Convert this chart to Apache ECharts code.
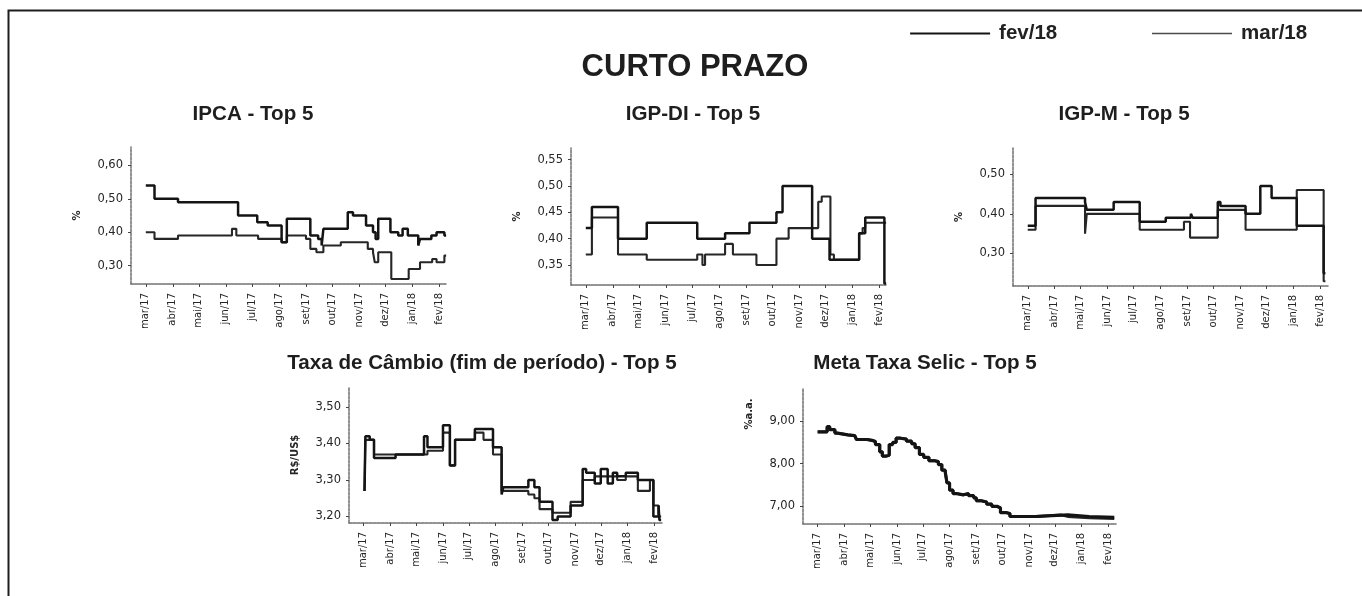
<!DOCTYPE html>
<html>
<head>
<meta charset="utf-8">
<script src="https://cdn.jsdelivr.net/npm/echarts@6/dist/echarts.min.js"></script>
<style>
  html, body { margin: 0; padding: 0; background: #ffffff; }
  #chart { width: 1362px; height: 596px; }
</style>
</head>
<body>
<div id="chart"></div>
<script>
// Month ticks shared by every panel
const monthTicks = ['2017-03-01','2017-04-01','2017-05-01','2017-06-01','2017-07-01','2017-08-01',
                    '2017-09-01','2017-10-01','2017-11-01','2017-12-01','2018-01-01','2018-02-01'];
const monthLabels = ['mar/17','abr/17','mai/17','jun/17','jul/17','ago/17',
                     'set/17','out/17','nov/17','dez/17','jan/18','fev/18'];
const xStart = '2017-02-12';
const xEnd = '2018-02-10';

// IPCA - Top 5 (% a.m.)
const ipcaFev = [['2017-03-01',0.54],['2017-03-11',0.50],['2017-04-07',0.49],['2017-06-15',0.45],['2017-07-07',0.43],
  ['2017-07-19',0.42],['2017-08-04',0.37],['2017-08-10',0.44],['2017-09-06',0.39],['2017-09-15',0.38],['2017-09-19',0.36],
  ['2017-09-21',0.41],['2017-10-19',0.46],['2017-10-25',0.45],['2017-11-09',0.42],['2017-11-17',0.40],['2017-11-20',0.38],
  ['2017-11-23',0.44],['2017-12-07',0.40],['2017-12-16',0.39],['2017-12-21',0.41],['2017-12-27',0.39],['2018-01-08',0.36],
  ['2018-01-10',0.38],['2018-01-23',0.39],['2018-01-29',0.40],['2018-02-07',0.39],['2018-02-09',0.39]];
const ipcaMar = [['2017-03-01',0.40],['2017-03-11',0.38],['2017-04-07',0.39],['2017-06-08',0.41],['2017-06-13',0.39],
  ['2017-07-08',0.38],['2017-08-04',0.37],['2017-08-10',0.39],['2017-09-01',0.38],['2017-09-06',0.35],['2017-09-13',0.34],
  ['2017-09-21',0.36],['2017-10-11',0.37],['2017-11-11',0.35],['2017-11-17',0.34],['2017-11-19',0.31],['2017-11-23',0.34],
  ['2017-12-08',0.26],['2017-12-28',0.29],['2018-01-10',0.31],['2018-01-24',0.32],['2018-01-29',0.31],['2018-02-07',0.33],
  ['2018-02-09',0.33]];
const ipcaTicks = [0.30, 0.40, 0.50, 0.60];

// IGP-DI - Top 5
const igpdiFev = [['2017-03-01',0.42],['2017-03-08',0.46],['2017-04-07',0.40],['2017-05-10',0.43],['2017-07-07',0.40],
  ['2017-08-08',0.41],['2017-09-05',0.43],['2017-10-06',0.45],['2017-10-13',0.50],['2017-11-16',0.40],['2017-12-06',0.36],
  ['2018-01-09',0.41],['2018-01-16',0.44],['2018-02-07',0.315],['2018-02-09',0.315]];
const igpdiMar = [['2017-03-01',0.37],['2017-03-08',0.44],['2017-04-07',0.37],['2017-05-10',0.36],['2017-07-07',0.37],
  ['2017-07-13',0.35],['2017-07-16',0.37],['2017-08-08',0.39],['2017-08-17',0.37],['2017-09-13',0.35],['2017-10-06',0.40],
  ['2017-10-20',0.42],['2017-11-23',0.47],['2017-11-27',0.48],['2017-12-07',0.37],['2017-12-11',0.36],['2018-01-09',0.41],
  ['2018-01-13',0.42],['2018-01-16',0.43],['2018-02-09',0.43]];
const igpdiTicks = [0.35, 0.40, 0.45, 0.50, 0.55];

// IGP-M - Top 5
const igpmFev = [['2017-03-01',0.37],['2017-03-10',0.44],['2017-05-06',0.43],['2017-05-08',0.41],['2017-06-08',0.43],
  ['2017-07-08',0.38],['2017-08-07',0.39],['2017-09-05',0.40],['2017-09-07',0.39],['2017-10-06',0.43],['2017-10-09',0.42],
  ['2017-11-07',0.40],['2017-11-24',0.47],['2017-12-07',0.44],['2018-01-05',0.37],['2018-02-05',0.25],['2018-02-07',0.25]];
const igpmMar = [['2017-03-01',0.36],['2017-03-10',0.42],['2017-05-06',0.35],['2017-05-08',0.40],['2017-07-08',0.36],
  ['2017-08-28',0.38],['2017-09-04',0.34],['2017-10-06',0.41],['2017-11-07',0.36],['2018-01-05',0.46],['2018-02-05',0.23],
  ['2018-02-07',0.23]];
const igpmTicks = [0.30, 0.40, 0.50];

// Taxa de Câmbio (fim de período) - Top 5, R$/US$
const cambioFev = [['2017-03-02',3.27],['2017-03-03',3.42],['2017-03-08',3.41],['2017-03-13',3.36],['2017-04-07',3.37],
  ['2017-05-10',3.42],['2017-05-14',3.39],['2017-06-01',3.45],['2017-06-09',3.34],['2017-06-15',3.41],['2017-07-08',3.44],
  ['2017-07-29',3.39],['2017-08-08',3.26],['2017-08-10',3.28],['2017-09-08',3.30],['2017-09-15',3.28],['2017-09-21',3.24],
  ['2017-10-06',3.19],['2017-10-12',3.20],['2017-10-27',3.23],['2017-11-10',3.33],['2017-11-14',3.32],['2017-11-24',3.29],
  ['2017-12-01',3.33],['2017-12-09',3.29],['2017-12-15',3.32],['2017-12-20',3.31],['2017-12-30',3.32],['2018-01-13',3.30],
  ['2018-01-31',3.20],['2018-02-06',3.23],['2018-02-07',3.19],['2018-02-09',3.19]];
const cambioMar = [['2017-03-02',3.27],['2017-03-03',3.41],['2017-03-13',3.37],['2017-05-14',3.38],['2017-06-01',3.43],
  ['2017-06-09',3.34],['2017-06-15',3.41],['2017-07-08',3.43],['2017-07-18',3.41],['2017-07-29',3.37],['2017-08-08',3.27],
  ['2017-09-08',3.26],['2017-09-15',3.25],['2017-09-21',3.22],['2017-10-06',3.21],['2017-10-27',3.24],['2017-11-10',3.30],
  ['2017-11-24',3.31],['2017-12-20',3.30],['2017-12-30',3.31],['2018-01-13',3.27],['2018-01-27',3.30],['2018-01-31',3.23],
  ['2018-02-06',3.21],['2018-02-07',3.20],['2018-02-09',3.20]];
const cambioTicks = [3.20, 3.30, 3.40, 3.50];

// Meta Taxa Selic - Top 5, % a.a.
const selicFev = [['2017-03-01',8.75],['2017-03-12',8.87],['2017-03-15',8.80],['2017-03-21',8.72],['2017-03-24',8.68],
  ['2017-04-05',8.66],['2017-04-13',8.62],['2017-04-15',8.57],['2017-04-27',8.55],['2017-05-03',8.52],['2017-05-07',8.45],
  ['2017-05-12',8.28],['2017-05-15',8.18],['2017-05-19',8.20],['2017-05-23',8.45],['2017-05-27',8.50],['2017-05-31',8.60],
  ['2017-06-05',8.58],['2017-06-12',8.53],['2017-06-18',8.47],['2017-06-22',8.38],['2017-06-27',8.22],['2017-07-02',8.15],
  ['2017-07-08',8.07],['2017-07-15',8.05],['2017-07-19',7.98],['2017-07-23',7.85],['2017-07-27',7.80],['2017-07-29',7.55],
  ['2017-08-01',7.38],['2017-08-05',7.30],['2017-08-09',7.27],['2017-08-17',7.30],['2017-08-23',7.25],['2017-08-29',7.20],
  ['2017-09-01',7.13],['2017-09-07',7.10],['2017-09-13',7.05],['2017-09-19',7.00],['2017-09-25',6.96],['2017-09-29',6.85],
  ['2017-10-06',6.83],['2017-10-10',6.76],['2017-11-09',6.80],['2017-12-16',6.76],['2018-01-10',6.74],['2018-02-08',6.74]];
const selicMar = [['2017-03-01',8.75],['2017-03-12',8.87],['2017-03-15',8.80],['2017-03-21',8.72],['2017-03-24',8.68],
  ['2017-04-05',8.66],['2017-04-13',8.62],['2017-04-15',8.57],['2017-04-27',8.55],['2017-05-03',8.52],['2017-05-07',8.45],
  ['2017-05-12',8.28],['2017-05-15',8.18],['2017-05-19',8.20],['2017-05-23',8.45],['2017-05-27',8.50],['2017-05-31',8.60],
  ['2017-06-05',8.58],['2017-06-12',8.53],['2017-06-18',8.47],['2017-06-22',8.38],['2017-06-27',8.22],['2017-07-02',8.15],
  ['2017-07-08',8.07],['2017-07-15',8.05],['2017-07-19',7.98],['2017-07-23',7.85],['2017-07-27',7.80],['2017-07-29',7.55],
  ['2017-08-01',7.38],['2017-08-05',7.30],['2017-08-09',7.27],['2017-08-17',7.30],['2017-08-23',7.25],['2017-08-29',7.20],
  ['2017-09-01',7.13],['2017-09-07',7.10],['2017-09-13',7.05],['2017-09-19',7.00],['2017-09-25',6.96],['2017-09-29',6.85],
  ['2017-10-06',6.83],['2017-10-10',6.76],['2017-11-09',6.80],['2017-12-08',6.76],['2017-12-16',6.73],['2018-01-10',6.71],
  ['2018-02-08',6.71]];
const selicTicks = [7.00, 8.00, 9.00];

// ---- helpers -------------------------------------------------------------
const toTime = s => { const [y, m, d] = s.split('-').map(Number); return Date.UTC(y, m - 1, d); };
const toPoints = arr => arr.map(([d, v]) => [toTime(d), v]);
const monthTimes = monthTicks.map(toTime);
const comma2 = v => v.toFixed(2).replace('.', ',');

const labelFont = 'DejaVu Sans';
const titleFont = 'Liberation Sans';
const axisGray = '#707070';

// nameShift lifts a rotated axis name along the axis (extra leading padding)
const panels = [
  { title: 'IPCA - Top 5', cx: 253, ty: 104, grid: { left: 131, top: 147, width: 316, height: 137 },
    min: 0.245, max: 0.655, ticks: ipcaTicks, name: '%', nameShift: 0, lineW: 2.5, fev: ipcaFev, mar: ipcaMar },
  { title: 'IGP-DI - Top 5', cx: 693, ty: 104, grid: { left: 571, top: 148, width: 316, height: 137 },
    min: 0.312, max: 0.572, ticks: igpdiTicks, name: '%', nameShift: 0, lineW: 2.5, fev: igpdiFev, mar: igpdiMar },
  { title: 'IGP-M - Top 5', cx: 1124, ty: 104, grid: { left: 1013, top: 148, width: 315, height: 138 },
    min: 0.218, max: 0.566, ticks: igpmTicks, name: '%', nameShift: 0, lineW: 2.5, fev: igpmFev, mar: igpmMar },
  { title: 'Taxa de Câmbio (fim de período) - Top 5', cx: 482, ty: 353, grid: { left: 349, top: 387, width: 313, height: 136 },
    min: 3.182, max: 3.555, ticks: cambioTicks, name: 'R$/US$', nameShift: 0, lineW: 2.5, fev: cambioFev, mar: cambioMar },
  { title: 'Meta Taxa Selic - Top 5', cx: 925, ty: 353, grid: { left: 803, top: 388, width: 313, height: 136 },
    min: 6.584, max: 9.78, ticks: selicTicks, name: '%a.a.', nameShift: 84, lineW: 3.2, fev: selicFev, mar: selicMar }
];

const titles = [{
  text: 'CURTO PRAZO', left: 695, top: 52, textAlign: 'center', padding: 0,
  textStyle: { fontFamily: titleFont, fontSize: 31, fontWeight: 'bold', color: '#1e1e1e' }
}];
panels.forEach(p => titles.push({
  text: p.title, left: p.cx, top: p.ty, textAlign: 'center', padding: 0,
  textStyle: { fontFamily: titleFont, fontSize: 20.6, fontWeight: 'bold', color: '#1e1e1e' }
}));

const grids = panels.map(p => Object.assign({ containLabel: false }, p.grid));

// x axes carry UTC timestamps; month labels sit on the first day of each month
const xAxes = panels.map((p, i) => ({
  type: 'value', gridIndex: i, min: toTime(xStart), max: toTime(xEnd),
  splitLine: { show: false },
  axisLine: { show: true, onZero: false, lineStyle: { color: axisGray, width: 1.5, type: [3, 1] } },
  axisTick: { show: true, customValues: monthTimes, length: 3, lineStyle: { color: '#444' } },
  axisLabel: {
    customValues: monthTimes, rotate: 90, margin: 9, fontFamily: labelFont, fontSize: 10, color: '#262626',
    formatter: v => { const k = monthTimes.indexOf(v); return k >= 0 ? monthLabels[k] : ''; }
  }
}));

const yAxes = panels.map((p, i) => ({
  type: 'value', gridIndex: i, min: p.min, max: p.max,
  name: p.name, nameLocation: 'middle', nameRotate: 90, nameGap: 49,
  nameTextStyle: { fontFamily: labelFont, fontSize: 10, fontWeight: 'bold', color: '#262626',
                   padding: [0, 0, 0, p.nameShift] },
  splitLine: { show: false },
  axisLine: { show: true, onZero: false, lineStyle: { color: axisGray, width: 1.5, type: [3, 1] } },
  axisTick: { show: true, customValues: p.ticks, length: 3, lineStyle: { color: '#444' } },
  axisLabel: { customValues: p.ticks, margin: 8, fontFamily: labelFont, fontSize: 11.5, color: '#262626', formatter: comma2 }
}));

const series = [];
panels.forEach((p, i) => {
  series.push({
    name: 'fev/18', type: 'line', step: 'end', xAxisIndex: i, yAxisIndex: i, symbol: 'none',
    data: toPoints(p.fev), lineStyle: { color: '#141414', width: p.lineW }, itemStyle: { color: '#141414' }, z: 3
  });
  series.push({
    name: 'mar/18', type: 'line', step: 'end', xAxisIndex: i, yAxisIndex: i, symbol: 'none',
    data: toPoints(p.mar), lineStyle: { color: '#262626', width: p.lineW - 0.4 }, itemStyle: { color: '#262626' }, z: 2
  });
});

const chart = echarts.init(document.getElementById('chart'), null, { renderer: 'canvas' });
chart.setOption({
  animation: false,
  backgroundColor: '#ffffff',
  title: titles,
  legend: {
    left: 909, top: 23, padding: 0, itemWidth: 80, itemHeight: 20, itemGap: 94,
    data: [
      { name: 'fev/18', lineStyle: { color: '#141414', width: 2.2 }, itemStyle: { opacity: 0 } },
      { name: 'mar/18', lineStyle: { color: '#4a4a4a', width: 1.6 }, itemStyle: { opacity: 0 } }
    ],
    textStyle: { fontFamily: titleFont, fontSize: 20.5, fontWeight: 'bold', color: '#222', padding: [0, 0, 0, 4] },
    selectedMode: false
  },
  grid: grids,
  xAxis: xAxes,
  yAxis: yAxes,
  series: series,
  graphic: [{
    type: 'polyline', silent: true,
    shape: { points: [[8.5, 596], [8.5, 10.5], [1362, 10.5]] },
    style: { stroke: '#1e1e1e', lineWidth: 2, fill: null }
  }]
});
</script>
</body>
</html>
